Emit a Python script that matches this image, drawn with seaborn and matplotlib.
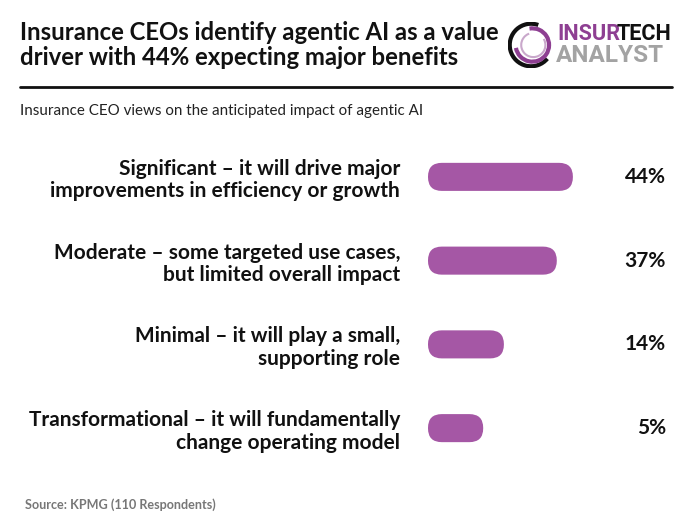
import pandas as pd
import matplotlib.pyplot as plt
import seaborn as sns
from matplotlib.patches import FancyBboxPatch, Arc

categories = [
    "Significant – it will drive major\nimprovements in efficiency or growth",
    "Moderate – some targeted use cases,\nbut limited overall impact",
    "Minimal – it will play a small,\nsupporting role",
    "Transformational – it will fundamentally\nchange operating model",
]
shares = [44, 37, 14, 5]
value_labels = ["44%", "37%", "14%", "5%"]

STUB = 19  # short lead-in so even small shares show as a pill
BAR_COLOR = "#a557a5"

df = pd.DataFrame({"impact": categories, "share": shares})
df["bar"] = df["share"] + STUB

sns.set_theme(style="white")
plt.rcParams["font.family"] = ["Lato", "DejaVu Sans"]

W, H = 696, 530
fig = plt.figure(figsize=(W / 100, H / 100), dpi=100)


def fx(px):
    return px / W


def fy(py):
    return 1 - py / H


# bar area in pixels
left, right, top, bottom = 428, 690, 135, 470
ax = fig.add_axes([fx(left), fy(bottom), fx(right - left), (bottom - top) / H])

sns.barplot(data=df, x="bar", y="impact", color=BAR_COLOR, saturation=1,
            width=0.335, ax=ax)
ax.set_xlim(0, (right - left) / 2.3)
ax.set_ylim(3.5, -0.5)

# swap the plain bars for rounded pills
ppx = (right - left) / (ax.get_xlim()[1] - ax.get_xlim()[0])
ppy = (bottom - top) / 4.0
rad = 13.8 / ppx
for p in list(ax.patches):
    x0, y0 = p.get_x(), p.get_y()
    w, h = p.get_width(), p.get_height()
    p.remove()
    ax.add_patch(FancyBboxPatch((x0, y0), w, h,
                                boxstyle=f"round,pad=0,rounding_size={rad}",
                                mutation_aspect=ppx / ppy,
                                fc=BAR_COLOR, ec="none"))

for i, lab in enumerate(value_labels):
    ax.text((666 - left) / (right - left), i, lab, transform=ax.get_yaxis_transform(),
            ha="right", va="center", fontsize=15, fontweight="bold", color="#111111")

ax.set_xlabel("")
ax.set_ylabel("")
ax.set_xticks([])
ax.tick_params(axis="y", length=0, pad=20)
for t in ax.get_yticklabels():
    t.set_fontsize(15)
    t.set_fontweight("bold")
    t.set_color("#111111")
    t.set_linespacing(1.15)
sns.despine(ax=ax, left=True, bottom=True)

# header
fig.text(fx(20), fy(40), "Insurance CEOs identify agentic AI as a value",
         fontsize=17.2, fontweight="bold", color="#111111", va="baseline")
fig.text(fx(20), fy(65), "driver with 44% expecting major benefits",
         fontsize=17.2, fontweight="bold", color="#111111", va="baseline")
fig.add_artist(plt.Line2D([fx(20), fx(672)], [fy(87), fy(87)], color="#111111", lw=2))
fig.text(fx(20), fy(115), "Insurance CEO views on the anticipated impact of agentic AI",
         fontsize=10.9, color="#222222", va="baseline")
fig.text(fx(25), fy(509), "Source: KPMG (110 Respondents)",
         fontsize=9.1, fontweight="bold", color="#777777", va="baseline")

# logo
lax = fig.add_axes([fx(508), fy(68), fx(46), 46 / H])
lax.set_xlim(-1, 1)
lax.set_ylim(-1, 1)
lax.set_aspect("equal")
lax.axis("off")
lax.add_patch(Arc((0, 0), 1.85, 1.85, theta1=70, theta2=320, color="#111111", lw=3))
lax.add_patch(Arc((0.06, 0), 1.45, 1.45, theta1=190, theta2=460, color="#8e3f92", lw=3))
lax.add_patch(Arc((0.1, 0), 1.05, 1.05, theta1=110, theta2=390, color="#c9a8cb", lw=1.5))
fig.text(fx(557), fy(40), "INSUR", fontsize=15.6, fontweight="bold", color="#8e3f92",
         va="baseline", family="Roboto")
fig.text(fx(617), fy(40), "TECH", fontsize=15.6, fontweight="bold", color="#111111",
         va="baseline", family="Roboto")
fig.text(fx(556), fy(62), "ANALYST", fontsize=17.5, fontweight="bold", color="#a3a3a3",
         va="baseline", family="Roboto")

fig.savefig("out.png", dpi=100)
